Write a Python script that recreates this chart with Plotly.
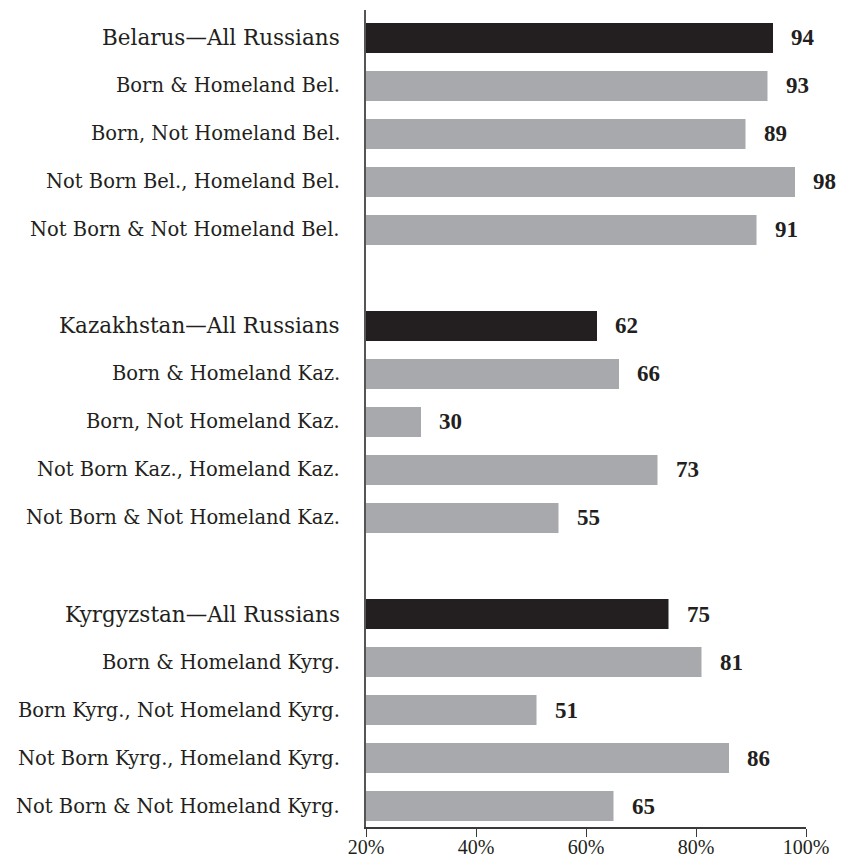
import plotly.graph_objects as go

groups = ["Belarus", "Kazakhstan", "Kyrgyzstan"]
labels = [
    ["Belarus\u2014All Russians", "Born & Homeland Bel.", "Born, Not Homeland Bel.",
     "Not Born Bel., Homeland Bel.", "Not Born & Not Homeland Bel."],
    ["Kazakhstan\u2014All Russians", "Born & Homeland Kaz.", "Born, Not Homeland Kaz.",
     "Not Born Kaz., Homeland Kaz.", "Not Born & Not Homeland Kaz."],
    ["Kyrgyzstan\u2014All Russians", "Born & Homeland Kyrg.", "Born Kyrg., Not Homeland Kyrg.",
     "Not Born Kyrg., Homeland Kyrg.", "Not Born & Not Homeland Kyrg."],
]
values = [
    [94, 93, 89, 98, 91],
    [62, 66, 30, 73, 55],
    [75, 81, 51, 86, 65],
]
tick_vals = [20, 40, 60, 80, 100]
tick_text = ["20%", "40%", "60%", "80%", "100%"]

DARK = "#231f20"
GRAY = "#a7a9ac"
FONT = "DejaVu Serif"
NUMFONT = "Liberation Serif"

ys, xs, cols, labs, heads = [], [], [], [], []
for g in range(len(groups)):
    for r in range(len(labels[g])):
        ys.append(g * 6 + r)
        xs.append(values[g][r])
        cols.append(DARK if r == 0 else GRAY)
        labs.append(labels[g][r])
        heads.append(r == 0)

fig = go.Figure()
fig.add_trace(go.Bar(
    x=xs, y=ys, orientation="h", marker=dict(color=cols, line=dict(width=0)),
    width=0.625, hoverinfo="skip", showlegend=False,
))

annotations = []
for x, y, lab, h in zip(xs, ys, labs, heads):
    annotations.append(dict(
        x=x, y=y, xref="x", yref="y", text=str(x), showarrow=False,
        xanchor="left", yanchor="middle", xshift=16,
        font=dict(family=NUMFONT, size=23, color=DARK, weight="bold"),
    ))
    annotations.append(dict(
        x=0, y=y, xref="paper", yref="y", text=lab, showarrow=False,
        xanchor="right", yanchor="middle", xshift=-24,
        font=dict(family=FONT, size=21.5 if h else 19.5, color=DARK),
    ))

fig.update_layout(
    width=853, height=858,
    margin=dict(l=366, r=47, t=10, b=31),
    paper_bgcolor="white", plot_bgcolor="white",
    bargap=0.375,
    annotations=annotations,
    xaxis=dict(
        range=[20, 100], tickvals=tick_vals, ticktext=tick_text, automargin=False,
        showgrid=False, zeroline=False, showline=True, linecolor="#3a3a3a", linewidth=1.5,
        ticks="outside", ticklen=8, tickwidth=1.2, tickcolor="#3a3a3a",
        ticklabelstandoff=-7,
        tickfont=dict(family=NUMFONT, size=20, color=DARK),
    ),
    yaxis=dict(
        range=[16.4375, -0.583], showticklabels=False, showgrid=False, zeroline=False,
        automargin=False,
        showline=True, linecolor="#555555", linewidth=1.5, ticks="",
    ),
)

fig.write_html("out.html")
